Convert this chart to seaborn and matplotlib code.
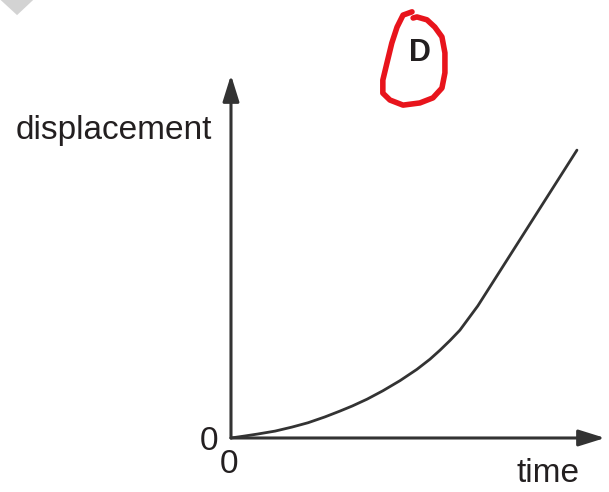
import matplotlib
matplotlib.use("Agg")
import matplotlib.pyplot as plt
import seaborn as sns
import pandas as pd

# displacement-time curve: accelerating start, then a straight (constant velocity) part
time = [0.0, 0.37, 0.72, 1.18, 1.63, 2.06, 2.51, 2.91, 3.24, 3.64, 4.06,
        4.52, 4.97, 5.32, 5.59, 5.86, 6.12, 6.60, 9.25]
displacement = [0.0, 0.055, 0.11, 0.19, 0.30, 0.42, 0.58, 0.74, 0.88, 1.07, 1.30,
                1.58, 1.89, 2.17, 2.42, 2.69, 2.97, 3.64, 7.93]

# hand-drawn ring around the answer letter
ring_x = [4.84, 4.60, 4.44, 4.30, 4.17, 4.06, 4.06, 4.25, 4.60, 5.05, 5.40,
          5.64, 5.72, 5.72, 5.64, 5.45, 5.24, 4.97, 4.87]
ring_y = [11.74, 11.65, 11.32, 10.88, 10.33, 9.86, 9.50, 9.31, 9.17, 9.23, 9.37,
          9.64, 10.06, 10.61, 11.05, 11.32, 11.52, 11.60, 11.57]

x_label = "time"
y_label = "displacement"
origin_labels = ["0", "0"]
answer = "D"

sns.set_style("white")
plt.rcParams["font.family"] = ["Liberation Sans", "DejaVu Sans"]

ink = "#231f20"
axis_col = "#333333"

fig = plt.figure(figsize=(6.09, 4.92), dpi=100)
ax = fig.add_axes([0, 0, 1, 1])
ax.set_xlim(-6.176, 10.107)
ax.set_ylim(-1.488, 12.066)
ax.axis("off")

# corner tab
ax.fill([-6.3, -5.29, -5.72], [12.2, 12.066, 11.65], color="#d3d3d3", lw=0)
ax.fill([-6.3, -6.176, -5.29], [12.2, 12.066, 12.066], color="#d3d3d3", lw=0)

# axes with arrow heads
arrow = dict(arrowstyle="-|>,head_length=0.8,head_width=0.25", color=axis_col,
             lw=2.2, mutation_scale=20, shrinkA=0, shrinkB=0)
ax.annotate("", xy=(10.0, 0), xytext=(0, 0), arrowprops=arrow)
ax.annotate("", xy=(0, 10.0), xytext=(0, 0), arrowprops=arrow)

df = pd.DataFrame({"time": time, "displacement": displacement})
sns.lineplot(data=df, x="time", y="displacement", ax=ax, color=axis_col,
             lw=2.0, sort=False, estimator=None)
ax.set_xlabel("")
ax.set_ylabel("")

fs = 24
ax.text(-0.51, 8.46, y_label, ha="right", va="center", fontsize=fs, color=ink)
ax.text(8.48, -0.99, x_label, ha="center", va="center", fontsize=fs, color=ink)
ax.text(-0.575, -0.09, origin_labels[0], ha="center", va="center", fontsize=fs, color=ink)
ax.text(-0.04, -0.74, origin_labels[1], ha="center", va="center", fontsize=fs, color=ink)

ax.text(5.05, 10.61, answer, ha="center", va="center", fontsize=22,
        fontweight="bold", color=ink)
ax.plot(ring_x, ring_y, color="#e8141c", lw=4.0, solid_capstyle="round",
        solid_joinstyle="round")

fig.savefig("out.png", dpi=100)
